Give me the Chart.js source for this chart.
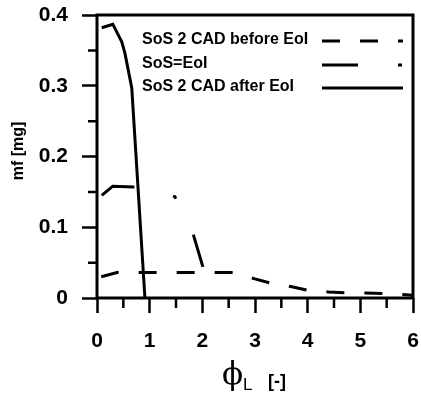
<!DOCTYPE html>
<html>
<head>
<meta charset="utf-8">
<title>mf vs phi_L</title>
<script src="https://cdn.jsdelivr.net/npm/chart.js@4/dist/chart.umd.min.js"></script>
<style>
  html, body { margin: 0; padding: 0; background: #fff; }
  #wrap { width: 421px; height: 395px; position: relative; }
</style>
</head>
<body>
<div id="wrap"><canvas id="chart"></canvas></div>
<script>
// ── Data ──────────────────────────────────────────────────
const xTicks = [0, 1, 2, 3, 4, 5, 6];
const yTicks = [0, 0.1, 0.2, 0.3, 0.4];

const beforeX = [0.08, 0.38, 1.0, 2.0, 2.6, 3.0, 3.3, 3.7, 4.0, 4.4, 4.7, 5.1, 5.45, 6.0];
const beforeY = [0.030, 0.036, 0.036, 0.036, 0.036, 0.027, 0.021, 0.016, 0.011, 0.0085, 0.0075, 0.007, 0.0064, 0.004];

const eqX = [0.09, 0.30, 0.72, 1.0, 1.48, 1.82, 2.01];
const eqY = [0.145, 0.158, 0.157, 0.155, 0.143, 0.092, 0.044];

const afterX = [0.09, 0.30, 0.47, 0.53, 0.66, 0.91];
const afterY = [0.382, 0.387, 0.362, 0.346, 0.297, 0];

const seriesNames = ['SoS 2 CAD before EoI', 'SoS=EoI', 'SoS 2 CAD after EoI'];
const seriesDash  = [[18, 20], [36, 40, 4, 40], []];

const toPoints = (xs, ys) => xs.map((x, i) => ({ x, y: ys[i] }));

const FONT = "'Liberation Sans', Arial, sans-serif";

// ── Plugins: frame, minor ticks, legend, axis titles ──────
const decor = {
  id: 'decor',
  afterDraw(chart) {
    const ctx = chart.ctx;
    const a = chart.chartArea;
    const xs = chart.scales.x, ys = chart.scales.y;
    ctx.save();
    ctx.strokeStyle = '#000';
    ctx.fillStyle = '#000';

    // frame
    ctx.lineWidth = 3;
    ctx.setLineDash([]);
    ctx.strokeRect(a.left, a.top, a.right - a.left, a.bottom - a.top);

    // minor ticks
    ctx.lineWidth = 2.5;
    ctx.beginPath();
    for (let v = 0.05; v < 0.4; v += 0.1) {
      const py = ys.getPixelForValue(v);
      ctx.moveTo(a.left - 9, py);
      ctx.lineTo(a.left, py);
    }
    for (let v = 0.5; v < 6; v += 1) {
      const px = xs.getPixelForValue(v);
      ctx.moveTo(px, a.bottom);
      ctx.lineTo(px, a.bottom + 10);
    }
    ctx.stroke();

    // legend (text first, then line sample)
    const rowsY = [40, 64, 87];
    ctx.font = 'bold 16px ' + FONT;
    ctx.textBaseline = 'middle';
    ctx.textAlign = 'left';
    seriesNames.forEach((name, i) => {
      ctx.fillText(name, 142, rowsY[i]);
      ctx.lineWidth = 3;
      ctx.setLineDash(seriesDash[i]);
      ctx.beginPath();
      ctx.moveTo(322, rowsY[i] + 1);
      ctx.lineTo(403, rowsY[i] + 1);
      ctx.stroke();
    });
    ctx.setLineDash([]);

    // y title
    ctx.save();
    ctx.translate(19, 151);
    ctx.rotate(-Math.PI / 2);
    ctx.font = 'bold 16px ' + FONT;
    ctx.textAlign = 'center';
    ctx.textBaseline = 'middle';
    ctx.fillText('mf [mg]', 0, 0);
    ctx.restore();

    // x title: phi with subscript L, then [-]
    ctx.textBaseline = 'alphabetic';
    ctx.textAlign = 'left';
    ctx.font = "31px 'DejaVu Serif', 'Liberation Serif', serif";
    ctx.fillText('\u03D5', 222, 384);
    ctx.font = '17px ' + FONT;
    ctx.fillText('L', 243, 390);
    ctx.font = 'bold 18px ' + FONT;
    ctx.fillText('[-]', 268, 387);
    ctx.restore();
  }
};

// keep the plot box where the reference has it
const noPad = s => {
  s.paddingLeft = 0; s.paddingRight = 0; s.paddingTop = 0; s.paddingBottom = 0;
};

// ── Chart ─────────────────────────────────────────────────
const lineStyle = (data, dash) => ({
  data,
  borderColor: '#000',
  borderWidth: 3,
  borderDash: dash,
  borderCapStyle: 'butt',
  pointRadius: 0,
  tension: 0,
  fill: false
});

new Chart(document.getElementById('chart'), {
  type: 'line',
  data: {
    datasets: [
      Object.assign({ label: seriesNames[0] }, lineStyle(toPoints(beforeX, beforeY), seriesDash[0])),
      Object.assign({ label: seriesNames[1] }, lineStyle(toPoints(eqX, eqY), seriesDash[1])),
      Object.assign({ label: seriesNames[2] }, lineStyle(toPoints(afterX, afterY), seriesDash[2]))
    ]
  },
  options: {
    responsive: true,
    maintainAspectRatio: false,
    animation: false,
    layout: { padding: { left: 0, right: 8, top: 15, bottom: 0 } },
    plugins: { legend: { display: false }, tooltip: { enabled: false } },
    scales: {
      x: {
        type: 'linear',
        min: xTicks[0],
        max: xTicks[xTicks.length - 1],
        afterFit: s => { s.height = 97; noPad(s); },
        afterBuildTicks: s => { s.ticks = xTicks.map(v => ({ value: v })); },
        border: { display: false },
        grid: { drawOnChartArea: false, drawTicks: true, tickLength: 15, tickWidth: 2.5, color: '#000' },
        ticks: { color: '#000', font: { family: FONT, size: 21, weight: 'bold' }, padding: 16, maxRotation: 0 }
      },
      y: {
        type: 'linear',
        min: yTicks[0],
        max: yTicks[yTicks.length - 1],
        afterFit: s => { s.width = 97; noPad(s); },
        afterBuildTicks: s => { s.ticks = yTicks.map(v => ({ value: v })); },
        border: { display: false },
        grid: { drawOnChartArea: false, drawTicks: true, tickLength: 15, tickWidth: 2.5, color: '#000' },
        ticks: { color: '#000', font: { family: FONT, size: 21, weight: 'bold' }, padding: 14 }
      }
    }
  },
  plugins: [decor]
});
</script>
</body>
</html>
